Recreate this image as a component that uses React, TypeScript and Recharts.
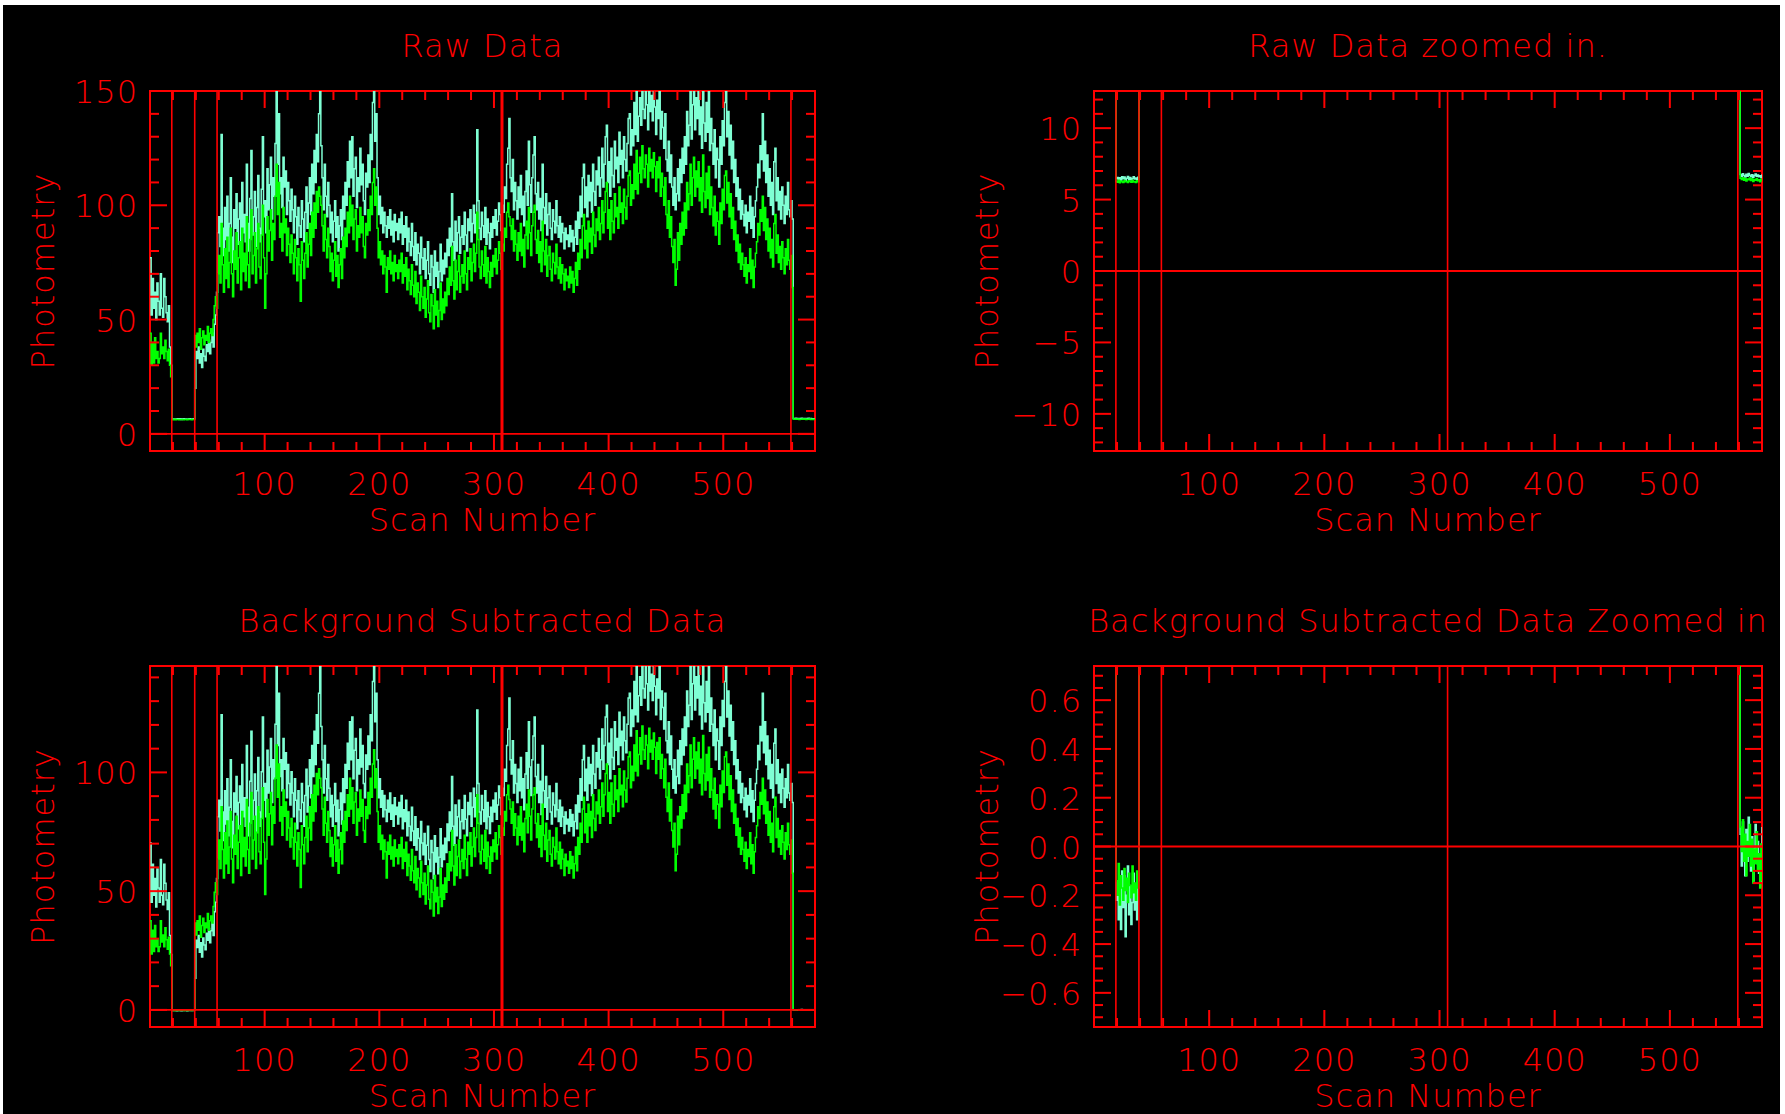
import { LineChart, Line, XAxis, YAxis, ReferenceLine, ReferenceArea } from "recharts";

const RED = "#ff0000";
const CYAN = "#7fffd4";
const GREEN = "#00ff00";
const FONT = "'DejaVu Sans', 'Liberation Sans', sans-serif";

const RAW_CYAN = [
  // 0-18
  77, 52, 68, 55, 62, 50, 66, 58, 52, 70, 55, 51, 68, 60, 53, 49, 56, 38, 30,
  // 19-38 sky
  6.48, 6.55, 6.4, 6.52, 6.36, 6.6, 6.45, 6.58, 6.33, 6.5, 6.62, 6.42, 6.54, 6.38, 6.47, 6.59, 6.44, 6.51, 6.4, 6.56,
  // 39-57
  20, 36, 33, 38, 31, 35, 29, 37, 34, 32, 39, 36, 41, 35, 40, 44, 38, 48, 52,
  // 58-560
  62, 88, 95, 82, 131, 90, 78, 99, 85, 104, 80, 92, 112, 86, 75, 98, 90, 105, 83, 94,
  101, 79, 110, 88, 96, 84, 118, 92, 80, 103, 124, 87, 95, 106, 82, 99, 113, 90, 84, 107,
  130, 95, 102, 88, 116, 98, 109, 121, 94, 112, 104, 127, 158, 118, 140, 105, 112, 99, 121, 108,
  115, 96, 110, 102, 93, 107, 98, 88, 104, 95, 83, 99, 91, 86, 102, 94, 84, 97, 108, 90,
  101, 112, 96, 118, 105, 124, 110, 131, 119, 140, 161, 126, 112, 98, 118, 104, 95, 110, 100, 88,
  97, 84, 93, 102, 86, 95, 80, 91, 98, 85, 104, 94, 110, 100, 119, 108, 128, 112, 130, 104,
  116, 121, 99, 112, 106, 125, 109, 118, 102, 96, 114, 108, 122, 110, 131, 120, 145, 163, 128, 140,
  112, 96, 104, 92, 99, 88, 97, 91, 86, 95, 90, 98, 87, 93, 84, 96, 89, 92, 85, 94,
  88, 97, 83, 91, 86, 95, 80, 90, 84, 78, 92, 82, 76, 88, 74, 83, 79, 70, 86, 77,
  72, 81, 68, 76, 84, 70, 65, 78, 73, 62, 80, 69, 75, 64, 71, 83, 67, 76, 70, 79,
  73, 85, 78, 90, 82, 105, 84, 76, 93, 80, 88, 95, 79, 86, 91, 83, 97, 87, 80, 94,
  89, 98, 84, 92, 100, 88, 96, 133, 102, 90, 85, 97, 91, 86, 99, 83, 94, 88, 81, 92,
  86, 95, 90, 98, 87, 93, 101, 96, 89, 100, 97, 108, 103, 118, 125, 138, 112, 106, 120, 98,
  110, 102, 94, 108, 99, 113, 96, 104, 91, 106, 115, 100, 128, 109, 97, 112, 122, 130, 105, 98,
  110, 94, 103, 89, 118, 99, 92, 105, 87, 96, 101, 90, 85, 98, 93, 88, 102, 91, 86, 95,
  84, 92, 88, 81, 90, 85, 87, 82, 91, 84, 89, 80, 86, 93, 83, 97, 90, 104, 95, 112,
  118, 99, 108, 95, 113, 102, 110, 97, 118, 106, 100, 115, 109, 121, 104, 112, 125, 108, 118, 130,
  135, 110, 119, 104, 125, 113, 108, 128, 116, 121, 110, 132, 118, 124, 112, 130, 120, 115, 127, 138,
  140, 122, 133, 126, 145, 131, 156, 128, 139, 147, 135, 160, 142, 138, 154, 144, 133, 158, 141, 148,
  137, 165, 143, 131, 146, 138, 157, 129, 141, 134, 125, 140, 120, 115, 128, 110, 122, 108, 100, 112,
  98, 105, 116, 102, 120, 110, 125, 114, 130, 118, 141, 126, 135, 159, 129, 144, 155, 133, 147, 138,
  162, 131, 143, 125, 156, 136, 128, 145, 132, 153, 124, 138, 127, 118, 133, 112, 125, 120, 108, 130,
  118, 137, 126, 145, 160, 130, 141, 122, 135, 116, 128, 110, 120, 104, 112, 98, 107, 94, 102, 96,
  91, 100, 88, 97, 93, 104, 90, 99, 86, 95, 102, 108, 118, 112, 126, 120, 140, 115, 128, 110,
  122, 104, 116, 100, 110, 96, 119, 125, 102, 112, 98, 106, 94, 108, 100, 92, 104, 96, 110, 98,
  95, 102, 94,
  // 561-580 sky
  6.75, 6.62, 6.8, 6.68, 6.58, 6.77, 6.64, 6.82, 6.7, 6.6, 6.74, 6.56, 6.69, 6.79, 6.63, 6.72, 6.59, 6.66, 6.55, 6.78,
];

const RAW_GREEN = [
  // 0-18
  44, 30, 40, 31, 42, 33, 36, 31, 33, 44, 35, 38, 33, 41, 36, 32, 37, 30, 25,
  // 19-38 sky
  6.28, 6.22, 6.35, 6.18, 6.3, 6.25, 6.2, 6.33, 6.24, 6.29, 6.19, 6.31, 6.26, 6.21, 6.34, 6.23, 6.27, 6.2, 6.32, 6.25,
  // 39-57
  43, 38, 44, 40, 46, 37, 42, 45, 39, 43, 41, 47, 40, 44, 46, 43, 50, 56, 60,
  // 58-560
  55, 70, 78, 66, 92, 74, 62, 81, 68, 86, 64, 75, 90, 70, 60, 80, 72, 88, 66, 77,
  84, 63, 90, 71, 79, 67, 95, 74, 64, 85, 98, 70, 78, 88, 66, 81, 92, 73, 68, 87,
  100, 77, 55, 70, 95, 80, 89, 98, 76, 92, 85, 104, 118, 96, 110, 86, 92, 80, 99, 88,
  94, 78, 90, 83, 75, 87, 79, 70, 85, 77, 67, 81, 74, 58, 84, 76, 68, 79, 88, 73,
  83, 92, 78, 97, 86, 101, 90, 106, 97, 108, 104, 100, 91, 80, 96, 85, 77, 90, 82, 71,
  79, 67, 76, 84, 69, 78, 64, 74, 81, 68, 86, 77, 90, 82, 97, 88, 104, 91, 100, 85,
  94, 98, 80, 91, 86, 99, 88, 95, 82, 77, 92, 87, 98, 89, 104, 96, 110, 116, 100, 108,
  90, 77, 84, 74, 80, 70, 78, 73, 62, 77, 72, 80, 70, 75, 67, 78, 71, 74, 68, 76,
  71, 79, 66, 74, 69, 77, 63, 72, 67, 61, 74, 65, 60, 71, 57, 66, 62, 54, 69, 60,
  55, 64, 51, 59, 67, 53, 49, 61, 56, 46, 63, 52, 58, 47, 54, 66, 50, 59, 53, 62,
  56, 68, 61, 73, 65, 82, 67, 59, 76, 63, 71, 78, 62, 69, 74, 66, 80, 70, 63, 77,
  72, 81, 67, 75, 83, 71, 79, 97, 85, 73, 68, 80, 74, 69, 82, 66, 77, 71, 64, 75,
  69, 78, 73, 81, 70, 76, 84, 79, 72, 83, 80, 90, 86, 97, 101, 95, 91, 85, 94, 80,
  89, 83, 76, 88, 80, 92, 78, 85, 73, 87, 93, 81, 99, 88, 78, 91, 97, 100, 85, 79,
  89, 75, 84, 71, 93, 80, 74, 85, 69, 78, 82, 72, 67, 79, 75, 70, 83, 73, 68, 77,
  66, 74, 70, 63, 72, 67, 69, 64, 73, 66, 71, 62, 68, 75, 65, 79, 72, 85, 77, 91,
  96, 81, 89, 77, 93, 84, 90, 79, 97, 87, 82, 94, 89, 99, 85, 92, 102, 88, 97, 106,
  110, 90, 98, 85, 102, 93, 88, 105, 95, 99, 90, 108, 97, 101, 92, 107, 99, 94, 104, 113,
  115, 100, 109, 103, 118, 107, 124, 105, 114, 121, 110, 126, 116, 112, 122, 118, 108, 125, 115, 120,
  112, 123, 117, 106, 119, 112, 121, 104, 114, 108, 100, 112, 96, 90, 102, 86, 95, 82, 75, 85,
  65, 72, 88, 76, 92, 83, 97, 87, 101, 90, 110, 98, 105, 118, 100, 112, 121, 104, 115, 108,
  119, 102, 112, 97, 122, 106, 99, 114, 103, 117, 96, 108, 99, 91, 104, 87, 97, 93, 83, 101,
  92, 107, 98, 113, 115, 101, 110, 95, 105, 90, 99, 85, 93, 80, 87, 75, 83, 72, 79, 74,
  69, 77, 66, 74, 71, 81, 68, 76, 64, 73, 79, 84, 92, 87, 98, 93, 104, 89, 99, 85,
  94, 80, 90, 77, 85, 73, 92, 96, 79, 87, 75, 82, 72, 84, 77, 70, 81, 74, 85, 76,
  72, 78, 64,
  // 561-580 sky
  6.5, 6.4, 6.53, 6.36, 6.47, 6.3, 6.44, 6.38, 6.51, 6.34, 6.45, 6.27, 6.41, 6.35, 6.48, 6.32, 6.39, 6.25, 6.43, 6.28,
];

// sky background level per channel
const BACKGROUND_CYAN = 6.7;
const BACKGROUND_GREEN = 6.42;

// red scan markers
const SCAN_MARKERS = [19, 39, 58.5, 307, 559];

const X_TICKS = [20, 40, 60, 80, 100, 120, 140, 160, 180, 200, 220, 240, 260, 280, 300, 320, 340, 360, 380, 400, 420, 440, 460, 480, 500, 520, 540, 560];
const X_LABELS = [100, 200, 300, 400, 500];

const RAW_Y_TICKS = [0, 10, 20, 30, 40, 50, 60, 70, 80, 90, 100, 110, 120, 130, 140, 150];
const RAW_Y_LABELS = [0, 50, 100, 150];
const RAWZ_Y_TICKS = [-12, -11, -10, -9, -8, -7, -6, -5, -4, -3, -2, -1, 0, 1, 2, 3, 4, 5, 6, 7, 8, 9, 10, 11, 12];
const RAWZ_Y_LABELS = [-10, -5, 0, 5, 10];
const SUB_Y_TICKS = [0, 10, 20, 30, 40, 50, 60, 70, 80, 90, 100, 110, 120, 130, 140];
const SUB_Y_LABELS = [0, 50, 100];
const SUBZ_Y_TICKS = [-0.7, -0.65, -0.6, -0.55, -0.5, -0.45, -0.4, -0.35, -0.3, -0.25, -0.2, -0.15, -0.1, -0.05, 0, 0.05, 0.1, 0.15, 0.2, 0.25, 0.3, 0.35, 0.4, 0.45, 0.5, 0.55, 0.6, 0.65, 0.7];
const SUBZ_Y_LABELS = [-0.6, -0.4, -0.2, 0, 0.2, 0.4, 0.6];

const rawRows = RAW_CYAN.map((c, i) => ({ scan: i, cyan: c, green: RAW_GREEN[i] }));
const subRows = RAW_CYAN.map((c, i) => ({
  scan: i,
  cyan: +(c - BACKGROUND_CYAN).toFixed(3),
  green: +(RAW_GREEN[i] - BACKGROUND_GREEN).toFixed(3),
}));

const txt = { fill: RED, fontFamily: FONT, fontSize: 32, fontWeight: 200, letterSpacing: 1 } as const;
const minus = (s: string) => s.replace("-", "\u2212");

type PanelProps = {
  left: number; top: number; width: number; height: number;
  box: [number, number, number, number];
  title: string;
  rows: { scan: number; cyan: number; green: number }[];
  yDomain: [number, number];
  yTicks: number[];
  yLabels: number[];
  fmt: (v: number) => string;
  thick?: boolean;
};

function Panel({ left, top, width, height, box, title, rows, yDomain, yTicks, yLabels, fmt, thick }: PanelProps) {
  const [bx0, by0, bx1, by1] = box;
  const xTick = (p: any) => {
    const v = p.payload.value;
    const x = p.x;
    const major = X_LABELS.includes(v);
    const len = major ? 17 : 9;
    return (
      <g>
        <line x1={x} x2={x} y1={by1} y2={by1 - len} stroke={RED} strokeWidth={2} />
        <line x1={x} x2={x} y1={by0} y2={by0 + len} stroke={RED} strokeWidth={2} />
        {major && <text x={x} y={by1 + 44} textAnchor="middle" {...txt}>{v}</text>}
      </g>
    );
  };
  const yTick = (p: any) => {
    const v = p.payload.value;
    const y = p.y;
    const major = yLabels.some((l) => Math.abs(l - v) < 1e-9);
    const len = major ? 17 : 9;
    return (
      <g>
        <line x1={bx0} x2={bx0 + len} y1={y} y2={y} stroke={RED} strokeWidth={2} />
        <line x1={bx1} x2={bx1 - len} y1={y} y2={y} stroke={RED} strokeWidth={2} />
        {major && <text x={bx0 - 12} y={y} dy={12} textAnchor="end" {...txt}>{minus(fmt(v))}</text>}
      </g>
    );
  };
  const cy = (by0 + by1) / 2;
  return (
    <div style={{ position: "absolute", left, top, width, height }}>
      <LineChart width={width} height={height} data={rows}
        margin={{ top: by0, right: width - bx1, bottom: height - by1 - 40, left: bx0 - 60 }}>
        <XAxis dataKey="scan" type="number" domain={[0, 580]} ticks={X_TICKS} interval={0} allowDataOverflow
          axisLine={false} tickLine={false} tick={xTick} height={40} />
        <YAxis type="number" domain={yDomain} ticks={yTicks} interval={0} allowDataOverflow
          axisLine={false} tickLine={false} tick={yTick} width={60} />
        <Line dataKey="cyan" type="stepAfter" stroke={CYAN} strokeWidth={1.5} dot={false} isAnimationActive={false} />
        <Line dataKey="green" type="stepAfter" stroke={GREEN} strokeWidth={1.5} dot={false} isAnimationActive={false} />
        <ReferenceLine y={0} stroke={RED} strokeWidth={1.8} />
        {SCAN_MARKERS.map((m) => (
          <ReferenceLine key={m} x={m} stroke={RED} strokeWidth={thick && m === 307 ? 3 : 1.6} />
        ))}
        <ReferenceArea x1={0} x2={580} y1={yDomain[0]} y2={yDomain[1]} fill="none" stroke={RED} strokeWidth={2} />
      </LineChart>
      <svg width={width} height={height} style={{ position: "absolute", left: 0, top: 0, pointerEvents: "none" }}>
        <text x={(bx0 + bx1) / 2} y={by0 - 34} textAnchor="middle" {...txt}>{title}</text>
        <text x={(bx0 + bx1) / 2} y={by1 + 80} textAnchor="middle" {...txt}>Scan Number</text>
        <text x={bx0 - 96} y={cy} textAnchor="middle" transform={`rotate(-90 ${bx0 - 96} ${cy})`} {...txt}>Photometry</text>
      </svg>
    </div>
  );
}

export default function App() {
  return (
    <div style={{ position: "absolute", left: 0, top: 0, width: 1785, height: 1114, background: "#fff", overflow: "hidden" }}>
      <div style={{ position: "absolute", left: 3, top: 5, width: 1777, height: 1109, background: "#000" }} />
      <Panel left={0} top={0} width={890} height={560} box={[150, 91, 815, 451]} title="Raw Data"
        rows={rawRows} yDomain={[-7.5, 150]} yTicks={RAW_Y_TICKS} yLabels={RAW_Y_LABELS} fmt={(v) => String(v)} thick />
      <Panel left={890} top={0} width={895} height={560} box={[204, 91, 872, 451]} title="Raw Data zoomed in."
        rows={rawRows} yDomain={[-12.6, 12.6]} yTicks={RAWZ_Y_TICKS} yLabels={RAWZ_Y_LABELS} fmt={(v) => String(v)} />
      <Panel left={0} top={560} width={890} height={554} box={[150, 106, 815, 467]} title="Background Subtracted Data"
        rows={subRows} yDomain={[-7.2, 144.8]} yTicks={SUB_Y_TICKS} yLabels={SUB_Y_LABELS} fmt={(v) => String(v)} thick />
      <Panel left={890} top={560} width={895} height={554} box={[204, 106, 872, 467]} title="Background Subtracted Data Zoomed in"
        rows={subRows} yDomain={[-0.74, 0.74]} yTicks={SUBZ_Y_TICKS} yLabels={SUBZ_Y_LABELS} fmt={(v) => v.toFixed(1)} />
    </div>
  );
}
